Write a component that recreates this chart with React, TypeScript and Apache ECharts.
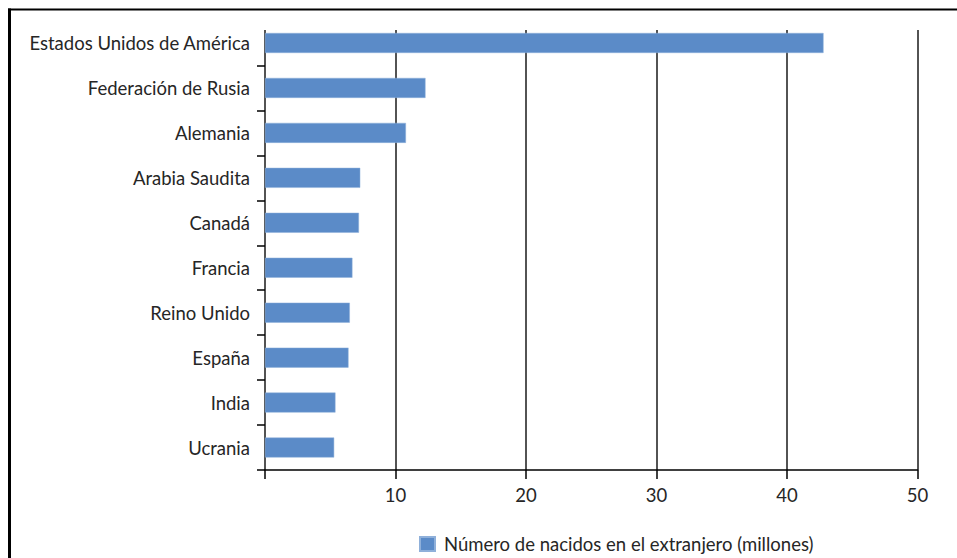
import React, { useEffect, useRef } from "react";
import * as echarts from "echarts";

const categories = [
  "Estados Unidos de América",
  "Federación de Rusia",
  "Alemania",
  "Arabia Saudita",
  "Canadá",
  "Francia",
  "Reino Unido",
  "España",
  "India",
  "Ucrania",
];
const values = [42.8, 12.3, 10.8, 7.3, 7.2, 6.7, 6.5, 6.4, 5.4, 5.3];
const seriesName = "Número de nacidos en el extranjero (millones)";
const xMin = 0;
const xMax = 50;
const xInterval = 10;

const FONT = "Lato";
const TEXT = "#262626";
const BAR = "#5b8bc8";
const FS = 18.5;

export default function App() {
  const ref = useRef<HTMLDivElement>(null);
  useEffect(() => {
    if (!ref.current) return;
    const chart = echarts.init(ref.current, null, { renderer: "svg" });
    chart.setOption({
      animation: false,
      backgroundColor: "#ffffff",
      textStyle: { fontFamily: FONT },
      graphic: [
        {
          type: "line",
          shape: { x1: 8, y1: 9.5, x2: 957, y2: 9.5 },
          style: { stroke: "#000", lineWidth: 2 },
          z: 100,
        },
        {
          type: "line",
          shape: { x1: 9.5, y1: 8.5, x2: 9.5, y2: 558 },
          style: { stroke: "#000", lineWidth: 3 },
          z: 100,
        },
      ],
      legend: {
        left: 414,
        top: 529.5,
        itemWidth: 15,
        itemHeight: 14,
        icon: "rect",
        textStyle: { fontFamily: FONT, fontSize: FS, color: TEXT, padding: [0, 0, 0, 4] },
        data: [seriesName],
      },
      grid: [
        { left: 265, right: 39.5, top: 20.5, bottom: 88, containLabel: false },
        { left: 265, right: 39.5, top: 30, bottom: 88, containLabel: false },
      ],
      xAxis: [
        {
          type: "value",
          gridIndex: 0,
          min: xMin,
          max: xMax,
          interval: xInterval,
          axisLine: { show: true, lineStyle: { color: "#000", width: 1.5 } },
          axisTick: { show: true, length: 9, lineStyle: { color: "#000", width: 1.5 } },
          axisLabel: {
            fontFamily: FONT,
            fontSize: FS,
            color: TEXT,
            margin: 15,
            formatter: (v: number) => (v === 0 ? "" : String(v)),
          },
          splitLine: { show: false },
        },
        {
          type: "value",
          gridIndex: 1,
          min: xMin,
          max: xMax,
          interval: xInterval,
          axisLine: { show: false },
          axisTick: { show: false },
          axisLabel: { show: false },
          splitLine: { show: true, lineStyle: { color: "#1a1a1a", width: 1.5 } },
        },
      ],
      yAxis: [
        {
          type: "category",
          gridIndex: 0,
          data: categories,
          inverse: true,
          axisLine: { show: false },
          axisTick: {
            show: true,
            length: 8,
            interval: (i: number) => i !== 0,
            lineStyle: { color: "#000", width: 1.5 },
          },
          axisLabel: { fontFamily: FONT, fontSize: FS, color: TEXT, margin: 15 },
        },
        {
          type: "value",
          gridIndex: 1,
          show: false,
        },
      ],
      series: [
        {
          name: seriesName,
          type: "bar",
          xAxisIndex: 0,
          yAxisIndex: 0,
          data: values,
          barWidth: 20,
          itemStyle: { color: BAR, borderColor: "#8fb0da", borderWidth: 0.5 },
          z: 3,
        },
      ],
    });
    return () => chart.dispose();
  }, []);
  return (
    <div
      ref={ref}
      style={{ position: "fixed", left: 0, top: 0, width: 957, height: 558 }}
    />
  );
}
